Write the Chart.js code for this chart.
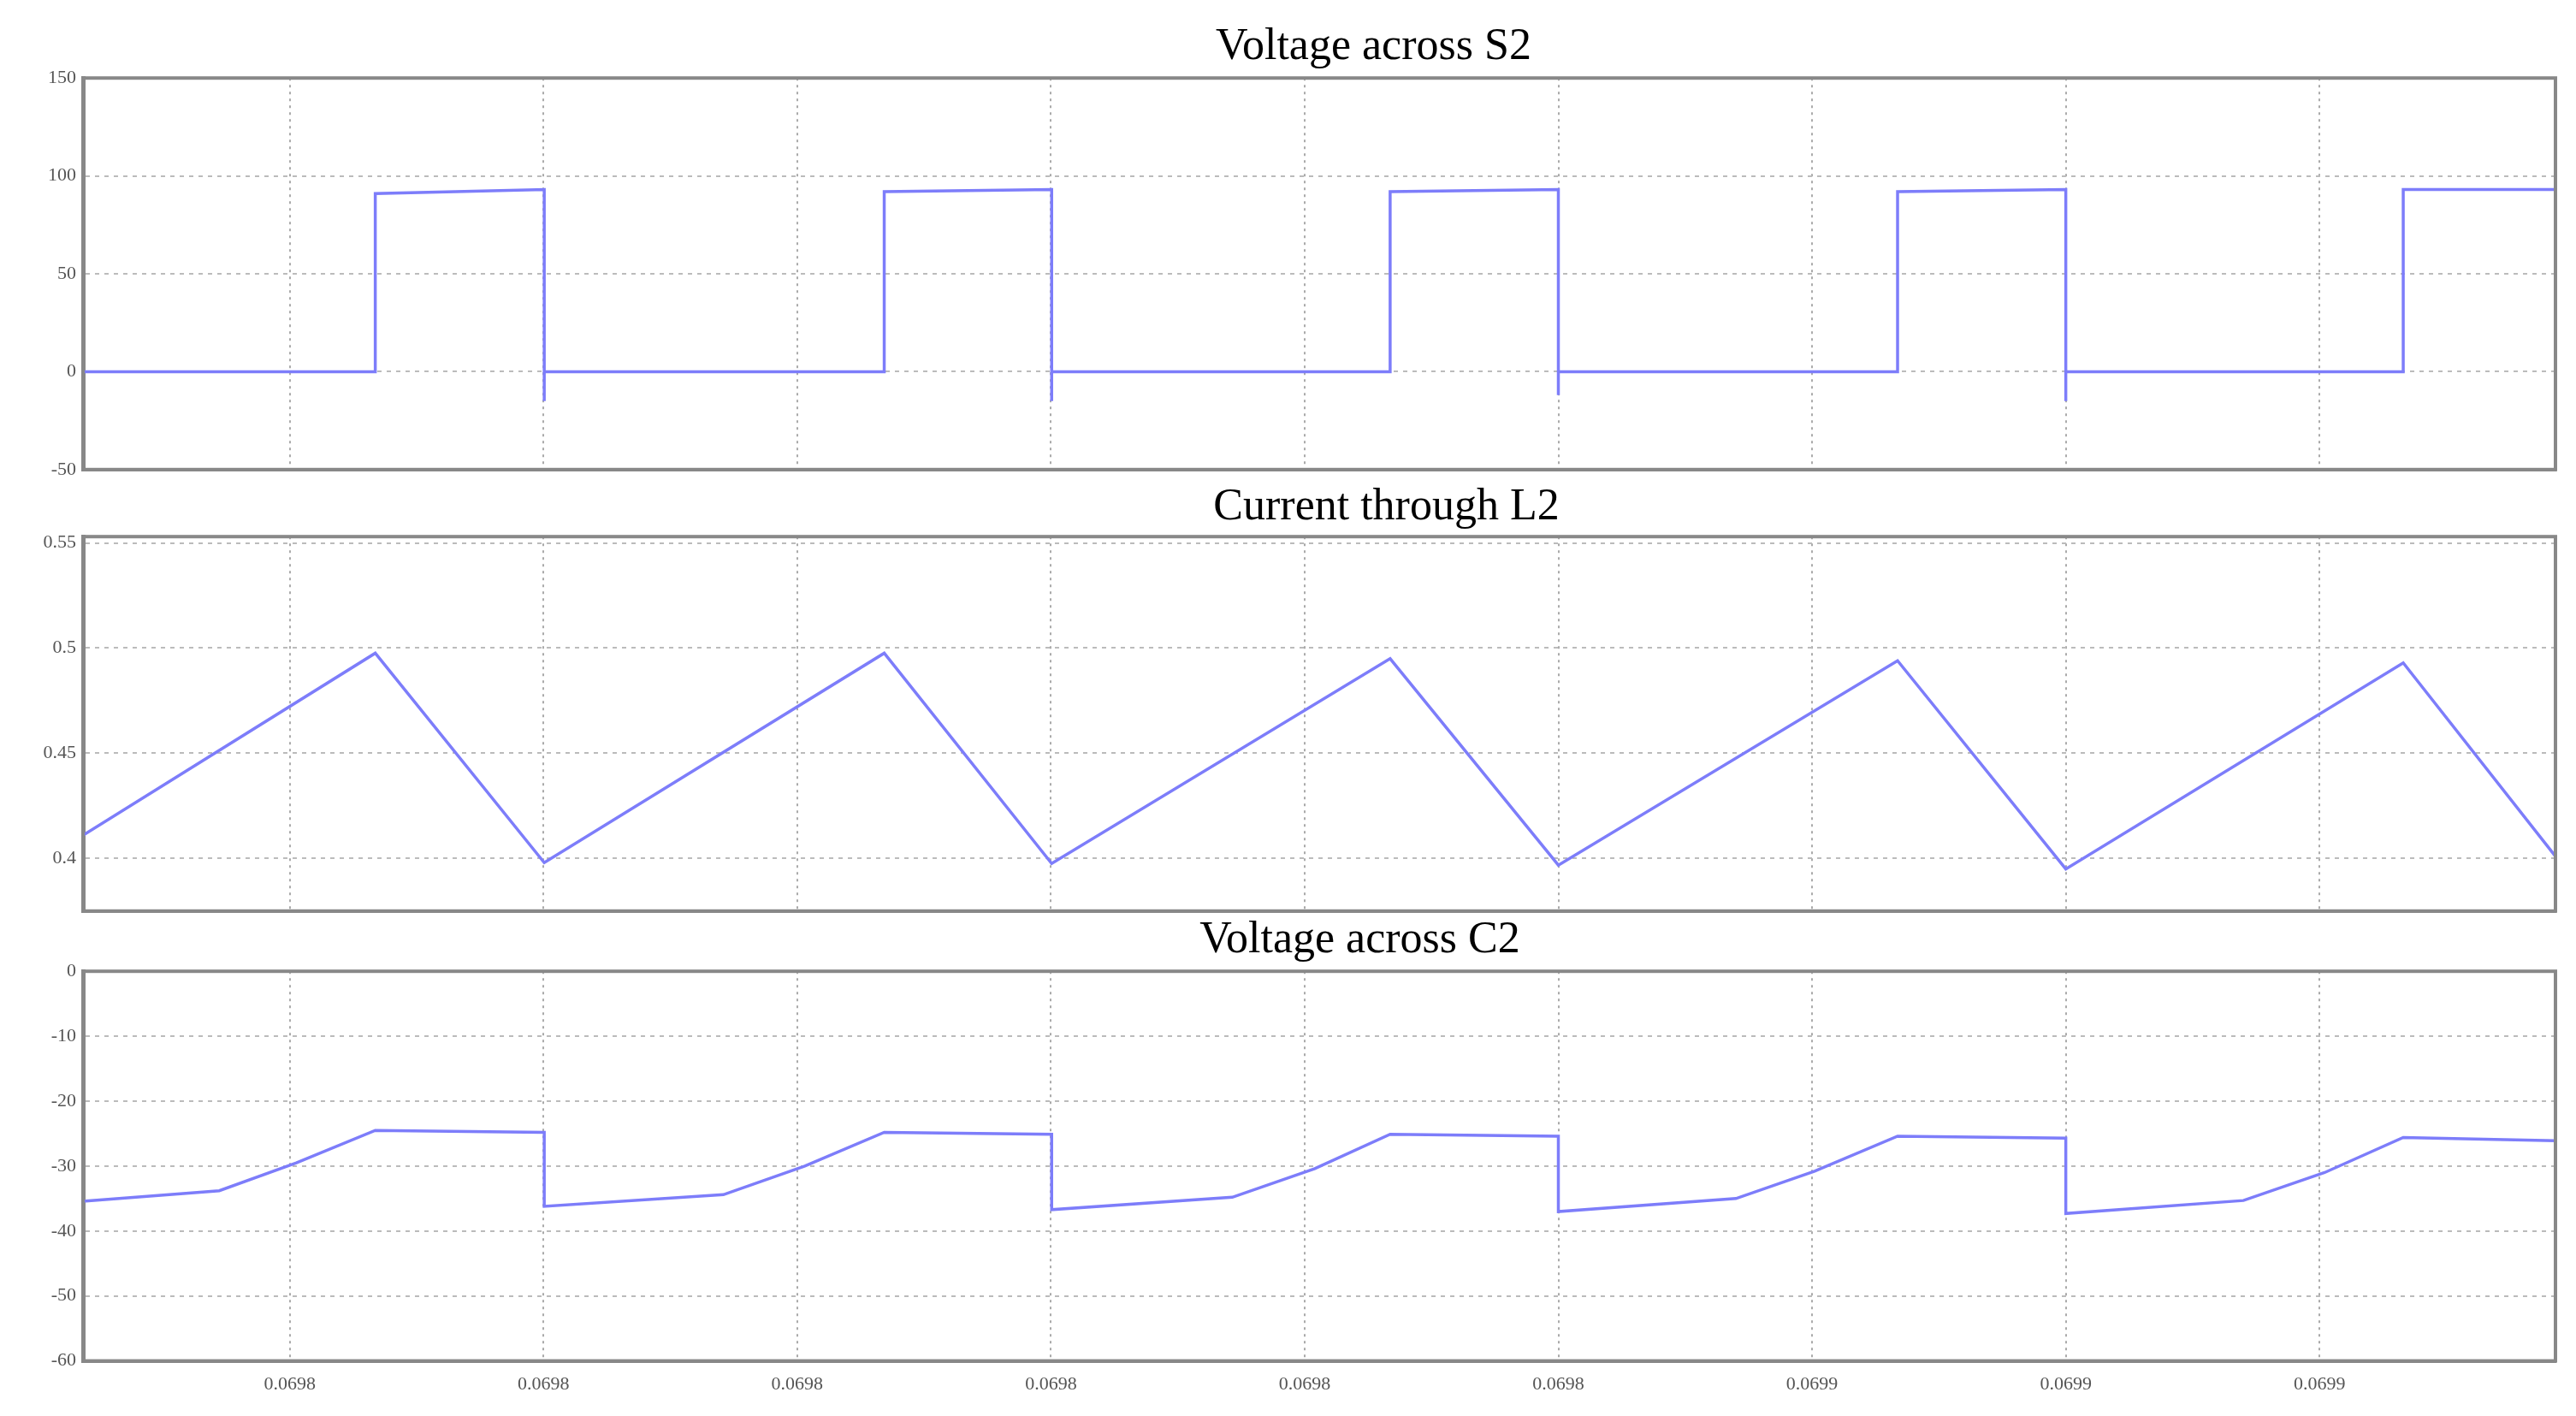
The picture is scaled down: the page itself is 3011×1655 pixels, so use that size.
<!DOCTYPE html>
<html><head><meta charset="utf-8">
<script src="https://cdn.jsdelivr.net/npm/chart.js@4"></script>
<style>
body{margin:0;background:#fff;width:3011px;height:1655px;position:relative;overflow:hidden}
.box{position:absolute;left:0;width:3011px}
.ttl{position:absolute;font-family:"Liberation Serif",serif;font-size:52px;color:#000;width:3011px;text-align:center;left:0}
</style></head><body>
<div class="box" style="top:70px;height:500px"><canvas id="c1"></canvas></div>
<div class="box" style="top:606px;height:480px"><canvas id="c2"></canvas></div>
<div class="box" style="top:1114px;height:541px"><canvas id="c3"></canvas></div>
<div class="ttl" style="top:22px;left:100px">Voltage across S2</div>
<div class="ttl" style="top:560px;left:115px">Current through L2</div>
<div class="ttl" style="top:1066px;left:84px">Voltage across C2</div>
<script>
// time in grid units (grid lines at 1..9)
const xMin = 0.185, xMax = 9.93;
const xTickPos = [1, 2, 3, 4, 5, 6, 7, 8, 9];
const xTickLabels = ['0.0698','0.0698','0.0698','0.0698','0.0698','0.0698','0.0699','0.0699','0.0699'];

const s2Time = [0.185,1.337,1.337,2.003,2.003,2.003,3.343,3.343,4.003,4.003,4.003,5.337,5.337,6.0,6.0,6.0,7.337,7.337,8.0,8.0,8.0,9.33,9.33,9.93];
const s2Volt = [0,0,91,93,-15,0,0,92,93,-15,0,0,92,93,-12,0,0,92,93,-15,0,0,93,93];

const l2Time = [0.185,1.337,2.003,3.343,4.003,5.337,6.0,7.337,8.0,9.33,9.93];
const l2Curr = [0.411,0.4976,0.398,0.4976,0.3976,0.495,0.3968,0.494,0.395,0.493,0.401];

const c2Time = [0.185,0.722,1.026,1.337,2.003,2.003,2.709,3.03,3.343,4.003,4.003,4.715,5.04,5.337,6.0,6.0,6.70,7.01,7.337,8.0,8.0,8.70,9.02,9.33,9.93];
const c2Volt = [-35.4,-33.8,-29.5,-24.5,-24.8,-36.2,-34.4,-30,-24.8,-25.1,-36.7,-34.8,-30.4,-25.1,-25.4,-37,-35,-30.8,-25.4,-25.7,-37.3,-35.3,-31,-25.6,-26.1];

const yTicks1 = [-50,0,50,100,150];
const yTicks2 = [0.4,0.45,0.5,0.55];
const yTicks3 = [-60,-50,-40,-30,-20,-10,0];

function pts(t, v){ return t.map((x,i)=>({x:x, y:v[i]})); }

function makeChart(id, t, v, yMin, yMax, yTicks, showX, bottomPad){
  new Chart(document.getElementById(id), {
    type: 'line',
    data: { datasets: [{ data: pts(t, v), borderColor: 'rgb(125,125,250)', borderWidth: 3.5, pointRadius: 0, tension: 0 }] },
    options: {
      responsive: true, maintainAspectRatio: false, animation: false,
      layout: { padding: { top: 18, right: 24, bottom: bottomPad, left: 0 } },
      plugins: { legend: { display: false }, tooltip: { enabled: false } },
      scales: {
        x: {
          type: 'linear', min: xMin, max: xMax,
          afterBuildTicks: ax => { ax.ticks = xTickPos.map(p => ({value: p})); },
          ticks: { display: showX, autoSkip: false, maxRotation: 0, padding: 14,
            callback: (val, i) => xTickLabels[i], color: '#555', font: { family: 'Liberation Serif', size: 22 } },
          grid: { color: '#aaa', lineWidth: 2, tickLength: 0 },
          border: { color: '#888', width: 4, dash: [3, 5] }
        },
        y: {
          min: yMin, max: yMax,
          afterBuildTicks: ax => { ax.ticks = yTicks.map(p => ({value: p})); },
          afterFit: ax => { ax.width = 97; },
          ticks: { color: '#555', padding: 8, callback: val => String(val), font: { family: 'Liberation Serif', size: 22 } },
          grid: { color: '#bbb', lineWidth: 2, tickLength: 0 },
          border: { color: '#888', width: 5, dash: [5, 6] }
        }
      }
    },
    plugins: [{ id: 'frame', afterDraw(c){ const a=c.chartArea, g=c.ctx; g.save(); g.strokeStyle='#888'; g.lineWidth=4; g.strokeRect(a.left,a.top,a.right-a.left,a.bottom-a.top); g.restore(); } }]
  });
}
makeChart('c1', s2Time, s2Volt, -50, 150, yTicks1, false, 20);
makeChart('c2', l2Time, l2Curr, 0.375, 0.553, yTicks2, false, 20);
makeChart('c3', c2Time, c2Volt, -60, 0, yTicks3, true, 10);
</script>
</body></html>
